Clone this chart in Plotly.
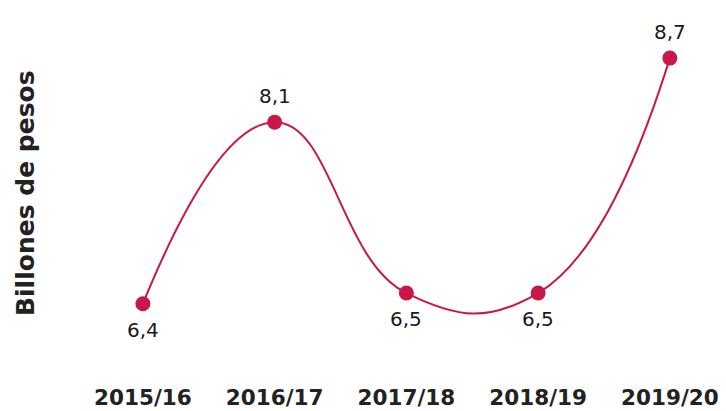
import plotly.graph_objects as go

categories = ["2015/16", "2016/17", "2017/18", "2018/19", "2019/20"]
values = [6.4, 8.1, 6.5, 6.5, 8.7]
labels = ["6,4", "8,1", "6,5", "6,5", "8,7"]
label_side = [-1, 1, -1, -1, 1]  # -1 below point, 1 above
y_title = "Billones de pesos"

color = "#C8184A"
text_color = "#1a1a1a"
label_font = "DejaVu Sans, sans-serif"

x_idx = list(range(len(categories)))

fig = go.Figure()
fig.add_trace(go.Scatter(
    x=x_idx, y=values,
    mode="lines+markers",
    line=dict(color=color, width=2, shape="spline", smoothing=1.3),
    marker=dict(color=color, size=15),
    cliponaxis=False,
    hoverinfo="skip",
))

annotations = [
    dict(x=xi, y=v, text=t, showarrow=False, xref="x", yref="y",
         yshift=26 * s, xanchor="center", yanchor="middle",
         font=dict(family=label_font, size=20, color=text_color))
    for xi, v, t, s in zip(x_idx, values, labels, label_side)
]
annotations.append(dict(
    text=f"<b>{y_title}</b>", textangle=-90,
    xref="paper", yref="paper", x=0, y=0.5, xshift=-52, yshift=-2,
    xanchor="center", yanchor="middle", showarrow=False,
    font=dict(family=label_font, size=25, color="#222222"),
))

fig.update_layout(
    width=726, height=411,
    margin=dict(l=77, r=0, t=0, b=29),
    paper_bgcolor="white", plot_bgcolor="white",
    showlegend=False,
    xaxis=dict(
        range=[-0.5, 4.426], tickmode="array", tickvals=x_idx,
        ticktext=[f"<b>{c}</b>" for c in categories],
        tickfont=dict(family=label_font, size=21.5, color="#222222"),
        showgrid=False, zeroline=False, showline=False, ticks="",
        automargin=False,
    ),
    yaxis=dict(
        range=[5.667, 9.244],
        showgrid=False, zeroline=False, showline=False,
        showticklabels=False, ticks="", automargin=False,
    ),
    annotations=annotations,
)

fig.write_html("out.html", config={"displayModeBar": False},
               post_script="document.body.style.margin='0';")
